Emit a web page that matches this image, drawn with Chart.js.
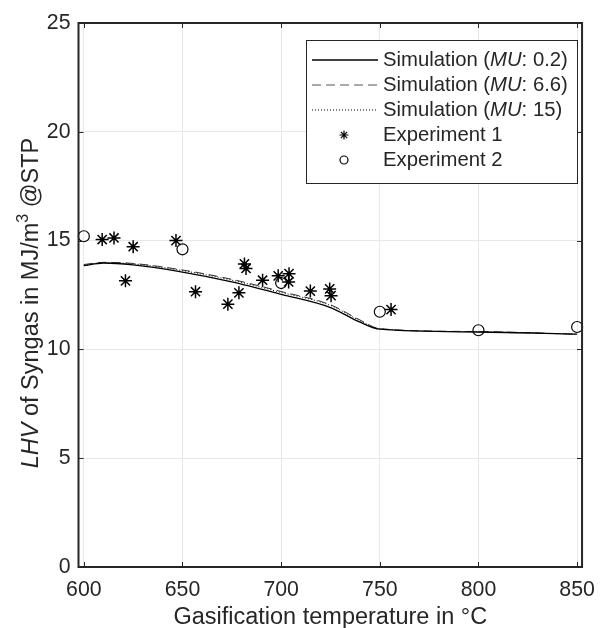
<!DOCTYPE html>
<html>
<head>
<meta charset="utf-8">
<script src="https://cdn.jsdelivr.net/npm/chart.js@4/dist/chart.umd.min.js"></script>
<style>
  body { margin: 0; background: #fff; }
  #wrap { width: 605px; height: 628px; position: relative; }
</style>
</head>
<body>
<div id="wrap"><canvas id="chart"></canvas></div>
<script>
// 刻度
const xTicks = [600, 650, 700, 750, 800, 850];
const yTicks = [0, 5, 10, 15, 20, 25];

// 模擬曲線
const simTemp = [600, 610, 625, 650, 675, 700, 725, 740, 750, 800, 850];
const simMU02 = [13.85, 13.97, 13.88, 13.55, 13.10, 12.53, 11.92, 11.25, 10.93, 10.80, 10.70];
const simMU66 = [13.90, 14.00, 13.95, 13.65, 13.22, 12.66, 12.05, 11.35, 10.95, 10.82, 10.70];
const simMU15 = [13.88, 13.99, 13.93, 13.62, 13.18, 12.62, 12.02, 11.32, 10.95, 10.81, 10.70];

// 實驗 1
const exp1Temp = [609.3, 615.3, 621.1, 625.0, 646.7, 656.6, 673.0, 678.6, 681.4, 682.2, 690.6, 698.5, 704.0, 703.8, 714.8, 724.6, 725.3, 755.7];
const exp1LHV  = [15.05, 15.12, 13.15, 14.72, 15.00, 12.65, 12.08, 12.60, 13.93, 13.72, 13.18, 13.38, 13.48, 13.10, 12.68, 12.78, 12.47, 11.83];

// 實驗 2
const exp2Temp = [600, 650, 700, 750, 800, 850];
const exp2LHV  = [15.20, 14.60, 13.05, 11.73, 10.88, 11.03];

const TXT = '#262626';
const FAMILY = '"Liberation Sans", Arial, Helvetica, sans-serif';

function toPoints(xs, ys) {
    return xs.map((x, i) => ({ x: x, y: ys[i] }));
}

// 混合字體文字
function drawRuns(ctx, runs, x, y) {
    let cx = x;
    runs.forEach(r => {
        ctx.font = r.font;
        ctx.fillText(r.text, cx, y + (r.dy || 0));
        cx += ctx.measureText(r.text).width;
    });
    return cx;
}
function runsWidth(ctx, runs) {
    let w = 0;
    runs.forEach(r => { ctx.font = r.font; w += ctx.measureText(r.text).width; });
    return w;
}

const framePlugin = {
    id: 'frame',
    afterDatasetsDraw(chart) {
        const { ctx, chartArea: a, scales } = chart;
        ctx.save();
        ctx.strokeStyle = TXT;
        ctx.lineWidth = 1;
        const t = 5;
        ctx.beginPath();
        xTicks.forEach(v => {
            const px = Math.round(scales.x.getPixelForValue(v)) + 0.5;
            ctx.moveTo(px, a.bottom); ctx.lineTo(px, a.bottom - t);
            ctx.moveTo(px, a.top); ctx.lineTo(px, a.top + t);
        });
        yTicks.forEach(v => {
            const py = Math.round(scales.y.getPixelForValue(v)) + 0.5;
            ctx.moveTo(a.left, py); ctx.lineTo(a.left + t, py);
            ctx.moveTo(a.right, py); ctx.lineTo(a.right - t, py);
        });
        ctx.stroke();
        ctx.lineWidth = 2;
        ctx.strokeRect(a.left, a.top, a.right - a.left, a.bottom - a.top);
        ctx.restore();
    },
    afterDraw(chart) {
        const { ctx, chartArea: a } = chart;
        ctx.save();
        ctx.fillStyle = TXT;
        ctx.textBaseline = 'alphabetic';

        // X 軸標題
        ctx.font = '23.5px ' + FAMILY;
        ctx.textAlign = 'center';
        ctx.fillText('Gasification temperature in °C', (a.left + a.right) / 2, 624);

        // Y 軸標題
        ctx.textAlign = 'left';
        const f = '23.5px ' + FAMILY;
        const fi = 'italic 23.5px ' + FAMILY;
        const fs = '16px ' + FAMILY;
        const yRuns = [
            { text: 'LHV', font: fi },
            { text: ' of Syngas in MJ/m', font: f },
            { text: '3', font: fs, dy: -10 },
            { text: ' @STP', font: f }
        ];
        ctx.translate(38, (a.top + a.bottom) / 2 + 8);
        ctx.rotate(-Math.PI / 2);
        drawRuns(ctx, yRuns, -runsWidth(ctx, yRuns) / 2, 0);
        ctx.setTransform(1, 0, 0, 1, 0, 0);

        // 圖例
        const bx = 306.5, by = 40.5, bw = 271, bh = 143;
        ctx.fillStyle = '#fff';
        ctx.fillRect(bx, by, bw, bh);
        ctx.strokeStyle = TXT;
        ctx.lineWidth = 1;
        ctx.strokeRect(bx, by, bw, bh);

        const lf = '20.3px ' + FAMILY;
        const lfi = 'italic 20.3px ' + FAMILY;
        const rows = [
            { label: '0.2', kind: 'line', color: '#000', dash: [], width: 1.3 },
            { label: '6.6', kind: 'line', color: '#555', dash: [9, 5], width: 1 },
            { label: '15', kind: 'line', color: '#000', dash: [1, 2], width: 1 },
            { label: 'Experiment 1', kind: 'star' },
            { label: 'Experiment 2', kind: 'circle' }
        ];
        rows.forEach((r, i) => {
            const ry = 60 + i * 25;
            ctx.save();
            ctx.strokeStyle = r.color || '#000';
            ctx.fillStyle = 'rgba(0,0,0,0)';
            if (r.kind === 'line') {
                ctx.lineWidth = r.width;
                ctx.setLineDash(r.dash);
                ctx.beginPath();
                ctx.moveTo(312, ry); ctx.lineTo(378, ry);
                ctx.stroke();
            } else {
                ctx.lineWidth = 1.2;
                Chart.helpers.drawPoint(ctx, {
                    pointStyle: r.kind === 'star' ? 'star' : 'circle',
                    radius: r.kind === 'star' ? 4.5 : 4,
                    borderWidth: 1.2
                }, 344, ry);
            }
            ctx.restore();
            ctx.fillStyle = TXT;
            ctx.textBaseline = 'middle';
            if (r.kind === 'line') {
                drawRuns(ctx, [
                    { text: 'Simulation (', font: lf },
                    { text: 'MU', font: lfi },
                    { text: ': ' + r.label + ')', font: lf }
                ], 383, ry);
            } else {
                ctx.font = lf;
                ctx.fillText(r.label, 383, ry);
            }
        });
        ctx.restore();
    }
};

document.addEventListener('DOMContentLoaded', function() {
    const ctx = document.getElementById('chart').getContext('2d');

    const lineBase = { showLine: true, pointRadius: 0, fill: false, tension: 0.3, cubicInterpolationMode: 'monotone' };

    const chartData = {
        datasets: [
            Object.assign({ label: 'Simulation (MU: 0.2)', data: toPoints(simTemp, simMU02),
                borderColor: '#000', borderWidth: 1.3 }, lineBase),
            Object.assign({ label: 'Simulation (MU: 6.6)', data: toPoints(simTemp, simMU66),
                borderColor: '#333', borderWidth: 1, borderDash: [9, 5] }, lineBase),
            Object.assign({ label: 'Simulation (MU: 15)', data: toPoints(simTemp, simMU15),
                borderColor: '#000', borderWidth: 1, borderDash: [1, 2] }, lineBase),
            {
                label: 'Experiment 1', data: toPoints(exp1Temp, exp1LHV),
                pointStyle: 'star', pointRadius: 6.5, borderColor: '#000', borderWidth: 1.5,
                backgroundColor: 'transparent', showLine: false, clip: false
            },
            {
                label: 'Experiment 2', data: toPoints(exp2Temp, exp2LHV),
                pointStyle: 'circle', pointRadius: 5.5, borderColor: '#000', borderWidth: 1.2,
                backgroundColor: 'transparent', showLine: false, clip: false
            }
        ]
    };

    const tickFont = { family: FAMILY, size: 21.3 };

    const chartOptions = {
        responsive: true,
        maintainAspectRatio: false,
        animation: false,
        layout: { padding: { top: 23, right: 12, bottom: 0, left: 0 } },
        plugins: {
            legend: { display: false },
            tooltip: { enabled: false }
        },
        scales: {
            x: {
                type: 'linear',
                min: 597.3,
                max: 852.5,
                afterBuildTicks: s => { s.ticks = xTicks.map(v => ({ value: v })); },
                afterFit: s => { s.height = 61; },
                grid: { color: '#e8e8e8', drawTicks: false },
                border: { display: false },
                ticks: { font: tickFont, color: TXT, padding: 10, maxRotation: 0, autoSkip: false }
            },
            y: {
                min: 0,
                max: 25,
                afterBuildTicks: s => { s.ticks = yTicks.map(v => ({ value: v })); },
                afterFit: s => { s.width = 78.5; },
                grid: { color: '#e8e8e8', drawTicks: false },
                border: { display: false },
                ticks: { font: tickFont, color: TXT, padding: 8, autoSkip: false }
            }
        }
    };

    new Chart(ctx, {
        type: 'scatter',
        data: chartData,
        options: chartOptions,
        plugins: [framePlugin]
    });
});
</script>
</body>
</html>
